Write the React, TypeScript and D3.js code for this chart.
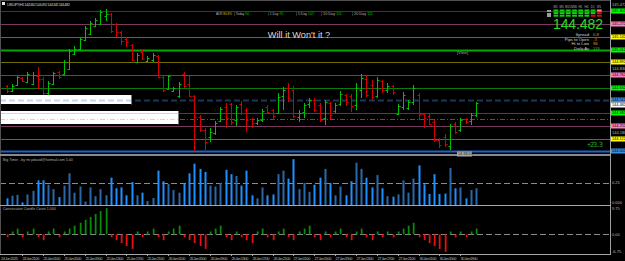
import React from 'react';
import * as d3 from 'd3';

// USDJPY H1 — bars from 24 Jun 18:00 to 30 Jun 12:00
const opens = [
  144.652, 144.602, 144.662, 144.732, 144.692, 144.672, 144.752, 144.722, 144.582, 144.672,
  144.792, 144.772, 144.822, 144.972, 145.022, 145.112, 145.172, 145.252, 145.272, 145.352,
  145.372, 145.272, 145.192, 145.122, 145.062, 144.892, 144.992, 144.902, 144.912, 144.952,
  144.742, 144.622, 144.602, 144.552, 144.772, 144.672, 144.552, 144.342, 144.212, 144.142,
  144.182, 144.302, 144.442, 144.472, 144.312, 144.472, 144.412, 144.322, 144.282, 144.312,
  144.442, 144.412, 144.382, 144.552, 144.632, 144.612, 144.342, 144.392, 144.472, 144.512,
  144.462, 144.332, 144.482, 144.402, 144.472, 144.562, 144.552, 144.462, 144.612, 144.722,
  144.662, 144.552, 144.702, 144.612, 144.652, 144.372, 144.442, 144.432, 144.492, 144.562,
  144.372, 144.352, 144.292, 144.112, 144.142, 144.052, 144.272, 144.212, 144.322, 144.302,
  144.362,
];
const highs = [
  144.662, 144.672, 144.752, 144.742, 144.792, 144.792, 144.842, 144.742, 144.702, 144.792,
  144.802, 144.912, 145.022, 145.052, 145.142, 145.252, 145.302, 145.332, 145.412, 145.422,
  145.382, 145.282, 145.202, 145.142, 145.072, 144.982, 145.022, 144.952, 144.982, 144.962,
  144.762, 144.762, 144.642, 144.692, 144.792, 144.752, 144.562, 144.362, 144.232, 144.232,
  144.302, 144.442, 144.482, 144.482, 144.462, 144.502, 144.432, 144.332, 144.332, 144.422,
  144.462, 144.422, 144.582, 144.642, 144.682, 144.652, 144.412, 144.482, 144.532, 144.532,
  144.482, 144.512, 144.492, 144.482, 144.602, 144.572, 144.572, 144.682, 144.772, 144.762,
  144.712, 144.742, 144.712, 144.682, 144.662, 144.472, 144.592, 144.512, 144.662, 144.582,
  144.382, 144.372, 144.312, 144.132, 144.172, 144.272, 144.292, 144.332, 144.332, 144.382,
  144.492,
];
const lows = [
  144.582, 144.592, 144.652, 144.692, 144.682, 144.662, 144.622, 144.562, 144.562, 144.662,
  144.722, 144.762, 144.812, 144.962, 145.012, 145.102, 145.162, 145.242, 145.262, 145.302,
  145.182, 145.142, 145.062, 145.042, 144.902, 144.882, 144.912, 144.892, 144.892, 144.732,
  144.592, 144.612, 144.592, 144.532, 144.632, 144.542, 144.002, 144.192, 143.992, 144.092,
  144.162, 144.292, 144.232, 144.262, 144.252, 144.362, 144.192, 144.232, 144.262, 144.292,
  144.382, 144.312, 144.372, 144.412, 144.492, 144.332, 144.292, 144.332, 144.432, 144.392,
  144.292, 144.262, 144.322, 144.382, 144.452, 144.452, 144.392, 144.412, 144.532, 144.542,
  144.512, 144.532, 144.582, 144.582, 144.562, 144.362, 144.412, 144.412, 144.462, 144.312,
  144.232, 144.262, 144.092, 144.032, 144.042, 144.012, 144.172, 144.192, 144.272, 144.262,
  144.342,
];
const closes = [
  144.602, 144.652, 144.742, 144.702, 144.772, 144.762, 144.722, 144.582, 144.682, 144.782,
  144.742, 144.892, 145.002, 145.022, 145.122, 145.232, 145.282, 145.312, 145.392, 145.372,
  145.202, 145.192, 145.102, 145.092, 144.912, 144.962, 144.922, 144.932, 144.962, 144.742,
  144.612, 144.752, 144.632, 144.672, 144.652, 144.552, 144.342, 144.212, 144.092, 144.192,
  144.282, 144.422, 144.332, 144.292, 144.442, 144.382, 144.312, 144.282, 144.312, 144.402,
  144.392, 144.352, 144.542, 144.612, 144.532, 144.352, 144.382, 144.462, 144.512, 144.412,
  144.312, 144.492, 144.362, 144.462, 144.572, 144.492, 144.452, 144.632, 144.732, 144.562,
  144.542, 144.712, 144.612, 144.652, 144.592, 144.452, 144.562, 144.492, 144.632, 144.372,
  144.332, 144.272, 144.112, 144.062, 144.072, 144.252, 144.192, 144.312, 144.292, 144.362,
  144.482,
];

// Big Timer histogram
const bigTimer = [
  0.076, 0.106, 0.114, 0.03, 0.12, 0.16, 0.28, 0.28, 0.23, 0.18,
  0.09, 0.22, 0.36, 0.14, 0.21, 0.04, 0.2, 0.1, 0.18, 0.11,
  0.31, 0.19, 0.2, 0.11, 0.26, 0.11, 0.14, 0.045, 0.08, 0.39,
  0.27, 0.24, 0.17, 0.14, 0.24, 0.36, 0.47, 0.41, 0.375, 0.22,
  0.21, 0.25, 0.4, 0.35, 0.33, 0.22, 0.39, 0.11, 0.076, 0.2,
  0.11, 0.12, 0.35, 0.39, 0.3, 0.52, 0.18, 0.25, 0.15, 0.23,
  0.31, 0.41, 0.25, 0.11, 0.21, 0.11, 0.27, 0.48, 0.41, 0.31,
  0.2, 0.34, 0.19, 0.1, 0.095, 0.12, 0.28, 0.14, 0.3, 0.45,
  0.235, 0.125, 0.35, 0.125, 0.13, 0.42, 0.19, 0.2, 0.076, 0.17,
  0.19,
];

// Consecutive Candle Count histogram
const candleCount = [
  -1, 1, 2, -1, 1, 2, -1, -2, 1, 2,
  -1, 1, 2, 3, 4, 5, 6, 7, 8, 9,
  -1, -2, -3, -4, -5, 1, -1, 1, 2, -1,
  -2, 1, 2, 3, -1, -2, -3, -4, -5, 1,
  2, 3, -1, -2, 1, -1, -2, -3, 1, 2,
  -1, -2, 1, 2, -1, -2, 1, 2, 3, -1,
  -2, 1, -1, 1, 2, -1, -2, 1, 2, -1,
  -2, 1, -1, 1, -1, 1, 2, 3, 4, -1,
  -2, -3, -4, -5, -6, 1, -1, 1, -1, 1,
  2,
];

const priceTicks = [
  145.472, 145.365, 145.258, 145.151, 145.044, 144.937, 144.83, 144.723,
  144.616, 144.509, 144.402, 144.295, 144.188, 144.081, 143.974,
];

// horizontal levels (price) and their looks
const levelPrices = [
  145.402, 145.272, 145.142, 145.012, 144.892, 144.762, 144.632,
  144.512, 144.382, 144.322, 144.252, 144.122, 144.002,
];
const levelStyles = [
  { stroke: '#0b5a0b', w: 1, dash: '', box: '#00ff00' },
  { stroke: '#7a3a5e', w: 1, dash: '', box: '#ff80c0' },
  { stroke: '#6e6e00', w: 1, dash: '', box: '#ffff00' },
  { stroke: '#00a800', w: 2, dash: '', box: '#00ff00' },
  { stroke: '#6e6e00', w: 1, dash: '', box: '#ffff00' },
  { stroke: '#7a3a5e', w: 1, dash: '', box: '#ff80c0' },
  { stroke: '#0a7a0a', w: 1, dash: '', box: '#00ff00' },
  { stroke: '#1c3658', w: 2, dash: '6,3', box: '#3a8ee8' },
  { stroke: '#0a6e0a', w: 1, dash: '', box: '#00ff00' },
  { stroke: '#0a8a0a', w: 1, dash: '5,2,1,2', box: '' },
  { stroke: '#7a3a5e', w: 1, dash: '', box: '#ff80c0' },
  { stroke: '#6e6e00', w: 1, dash: '', box: '#ffff00' },
  { stroke: '#1e64c8', w: 2, dash: '', box: '#3a8ee8' },
];

const timeTickBars = [3, 7, 11, 15, 19, 23, 27, 31, 35, 39, 43, 47, 51, 55, 59, 63, 67, 71, 75, 79, 83, 87];
const timeTickText = [
  '24 Jun 21:00', '25 Jun 01:00', '25 Jun 05:00', '25 Jun 09:00', '25 Jun 13:00', '25 Jun 17:00',
  '25 Jun 21:00', '26 Jun 01:00', '26 Jun 05:00', '26 Jun 09:00', '26 Jun 13:00', '26 Jun 17:00',
  '26 Jun 21:00', '27 Jun 01:00', '27 Jun 05:00', '27 Jun 09:00', '27 Jun 13:00', '27 Jun 17:00',
  '27 Jun 21:00', '30 Jun 01:00', '30 Jun 05:00', '30 Jun 09:00',
];

const adrLabels = ['ADR', '| Today', '| 1 Day', '| 5 Day', '| 10 Day', '| 20 Day'];
const adrValues = ['80.8%', '96', '76', '107', '111', '111'];
const adrX = [216, 234, 268, 296, 321, 352];
const adrW = [16, 15, 15, 18, 21, 21];

const infoLabels = ['Spread', 'Pips to Open', 'Hi to Low', 'Daily Av'];
const infoValues = ['0.8', '-3', '96', '119'];
const infoColors = ['#e08a1a', '#e07a1a', '#e0a020', '#20c020'];

const meterFrames = ['M1', 'M5', 'M15', 'M30', 'H1', 'H4', 'D1', 'W1'];
const meterCells = [
  ['g', 'g', 'g'], ['g', 'g', 'g'], ['g', 'g', 'g'], ['g', 'g', 'g'],
  ['g', 'g', 'g'], ['g', 'g', 'g'], ['g', 'g', 'r'], ['p', 'r', 'r'],
];
const cellColor = { g: '#10d010', r: '#d01010', p: '#ff8a8a' };

const FONT = 'Liberation Sans, Arial, sans-serif';
const AXIS_X = 610;
const BULL = '#00c000';
const BEAR = '#d40000';

export default function App() {
  const W = 625;
  const H = 261;

  const x = d3.scaleLinear().domain([0, 90]).range([6.5, 476]);
  const yPrice = d3.scaleLinear().domain([143.962, 145.512]).range([155, 0]);
  const yBT = d3.scaleLinear().domain([0, 0.545]).range([205, 157]);
  const yCC = d3.scaleLinear().domain([-6.75, 9.75]).range([254, 206]);
  const px = (i: number) => Math.round(x(i)) + 0.5;
  const py = (v: number) => Math.round(yPrice(v)) + 0.5;

  const lastClose = closes[closes.length - 1];
  const bidY = yPrice(lastClose) + 2;

  // axis boxes: level labels plus the bid label
  const boxYs = levelPrices
    .filter((p, i) => levelStyles[i].box)
    .map((p) => yPrice(p))
    .concat([bidY]);
  // hide plain price ticks that would sit under a box (as the terminal does)
  const visibleTicks = priceTicks.filter((p) => boxYs.every((by) => Math.abs(yPrice(p) - by) > 5));

  const boxLabel = (y: number, fill: string, text: string, key: string) => (
    <g key={key}>
      <rect x={AXIS_X + 0.5} y={y - 2.5} width={16} height={5} fill={fill} />
      <text x={AXIS_X + 2} y={y + 1.4} fontSize={3.8} fill="#000" fontFamily={FONT}>{text}</text>
    </g>
  );

  return (
    <svg width={W} height={H} style={{ position: 'absolute', left: 0, top: 0, display: 'block' }}>
      <defs>
        <clipPath id="mainClip"><rect x={0} y={0} width={AXIS_X} height={154} /></clipPath>
        <clipPath id="btClip"><rect x={0} y={157} width={AXIS_X} height={48} /></clipPath>
        <clipPath id="ccClip"><rect x={0} y={206} width={AXIS_X} height={48} /></clipPath>
      </defs>
      <rect x={0} y={0} width={W} height={H} fill="#000" />

      {/* main window */}
      <g clipPath="url(#mainClip)">
        {levelPrices.map((p, i) => (
          <line key={'lv' + i} x1={0} x2={AXIS_X} y1={py(p)} y2={py(p)}
            stroke={levelStyles[i].stroke} strokeWidth={levelStyles[i].w}
            strokeDasharray={levelStyles[i].dash || undefined} />
        ))}

        {closes.map((c, i) => {
          const col = c >= opens[i] ? BULL : BEAR;
          const cx = px(i);
          return (
            <g key={'c' + i} stroke={col} strokeWidth={1}>
              <line x1={cx} x2={cx} y1={yPrice(highs[i])} y2={yPrice(lows[i])} />
              <line x1={cx - 2} x2={cx} y1={py(opens[i])} y2={py(opens[i])} />
              <line x1={cx} x2={cx + 2} y1={py(c)} y2={py(c)} />
            </g>
          );
        })}

        {/* white label boxes */}
        <rect x={0} y={95} width={131} height={9} fill="#fff" />
        <line x1={131.5} x2={131.5} y1={95} y2={104.5} stroke="#777" />
        <line x1={0} x2={131} y1={py(levelPrices[7])} y2={py(levelPrices[7])} stroke="#c4d8ee" strokeWidth={2} strokeDasharray="6,3" />
        <rect x={0} y={111} width={178} height={13} fill="#fff" />
        <line x1={178.5} x2={178.5} y1={111} y2={124.5} stroke="#777" />
        <line x1={0} x2={178} y1={py(levelPrices[8])} y2={py(levelPrices[8])} stroke="#b4eeb4" />
        <line x1={0} x2={178} y1={py(levelPrices[9])} y2={py(levelPrices[9])} stroke="#b4eeb4" strokeDasharray="5,2,1,2" />
      </g>

      {/* titles and info */}
      <rect x={2} y={2} width={3} height={3} fill="#e0e0e0" />
      <text x={7} y={6} fontSize={4} fill="#c8c8c8" fontFamily={FONT} textLength={63}>
        USDJPY,H1  144.362 144.492 144.342 144.482
      </text>

      {adrLabels.map((l, i) => (
        <text key={'adr' + i} x={adrX[i]} y={14.5} fontSize={3.6} fontFamily={FONT} fill="#b8b8b8"
          textLength={adrW[i]} lengthAdjust="spacingAndGlyphs">
          {l} <tspan fill={i === 0 ? '#c8c800' : '#00c000'}>{adrValues[i]}</tspan>
        </text>
      ))}

      <text x={299} y={37.5} fontSize={9.2} fill="#d8d8d8" fontFamily={FONT} textAnchor="middle">
        Will it Won't it ?
      </text>

      <text x={457} y={53.5} fontSize={4} fill="#a8a8a8" fontFamily={FONT}>[Vline]</text>

      {/* timeframe meter */}
      <path d="M547,10 h4 v2 h-4z M547,13 h4 v4 h-4z" fill="#9a9a9a" />
      {meterFrames.map((f, i) => (
        <g key={'m' + i}>
          <text x={555.5 + i * 6.2} y={8} fontSize={3} fill="#b0b0b0" fontFamily={FONT} textAnchor="middle">{f}</text>
          {meterCells[i].map((c, r) => (
            <rect key={r} x={553.5 + i * 6.2} y={9.5 + r * 2.6} width={4.8} height={2} fill={cellColor[c]} />
          ))}
        </g>
      ))}

      <text x={603} y={29} fontSize={14} fill="#22e022" fontFamily={FONT} textAnchor="end" textLength={50}>
        144.482
      </text>
      {infoLabels.map((l, i) => (
        <g key={'inf' + i}>
          <text x={589} y={36 + i * 4.6} fontSize={4.2} fill="#d0d0d0" fontFamily={FONT} textAnchor="end">{l}</text>
          <text x={593} y={36 + i * 4.6} fontSize={4.2} fill={infoColors[i]} fontFamily={FONT}>{infoValues[i]}</text>
        </g>
      ))}

      <text x={587} y={147} fontSize={7} fill="#22a822" fontFamily="DejaVu Sans Mono, monospace" textLength={16}>+23.3</text>

      {/* price axis labels */}
      {visibleTicks.map((p, i) => (
        <text key={'pt' + i} x={AXIS_X + 2} y={yPrice(p) + 1.5} fontSize={4} fill="#b8b8b8" fontFamily={FONT}>
          {p.toFixed(3)}
        </text>
      ))}
      {levelPrices.map((p, i) =>
        levelStyles[i].box ? boxLabel(yPrice(p), levelStyles[i].box, p.toFixed(3), 'lb' + i) : null
      )}
      {boxLabel(bidY, '#ffffff', lastClose.toFixed(3), 'bid')}

      {/* Big Timer window */}
      <text x={3} y={161} fontSize={3.6} fill="#b0b0b0" fontFamily={FONT}>Big Timer - by mr.pdavid@hotmail.com 5.00</text>
      <g clipPath="url(#btClip)">
        <line x1={0} x2={AXIS_X} y1={Math.round(yBT(0.25)) + 0.5} y2={Math.round(yBT(0.25)) + 0.5}
          stroke="#8a8a8a" strokeDasharray="6,3" />
        {bigTimer.map((v, i) => (
          <rect key={'bt' + i} x={px(i) - 1} y={yBT(v)} width={2} height={yBT(0) - yBT(v)}
            fill={closes[i] >= opens[i] ? '#2a68ac' : '#1e90ff'} />
        ))}
      </g>
      <text x={AXIS_X + 2} y={yBT(0.25) + 1.5} fontSize={4} fill="#b8b8b8" fontFamily={FONT}>0.25</text>
      <text x={AXIS_X + 2} y={yBT(0) - 1.5} fontSize={4} fill="#b8b8b8" fontFamily={FONT}>0.000</text>

      {/* Consecutive Candle Count window */}
      <text x={3} y={210} fontSize={3.6} fill="#b0b0b0" fontFamily={FONT}>Consecutive Candle Count 1.000</text>
      <g clipPath="url(#ccClip)">
        <line x1={0} x2={AXIS_X} y1={Math.round(yCC(0)) + 0.5} y2={Math.round(yCC(0)) + 0.5}
          stroke="#8a8a8a" strokeDasharray="6,3" />
        {candleCount.map((v, i) => (
          <rect key={'cc' + i} x={px(i) - 0.75} y={Math.min(yCC(v), yCC(0))} width={1.8}
            height={Math.abs(yCC(v) - yCC(0))} fill={v > 0 ? '#0a8a0a' : '#e81010'} />
        ))}
      </g>
      <text x={AXIS_X + 2} y={yCC(9.75) + 4} fontSize={4} fill="#b8b8b8" fontFamily={FONT}>9.75</text>
      <text x={AXIS_X + 2} y={yCC(0) + 1.5} fontSize={4} fill="#b8b8b8" fontFamily={FONT}>0.00</text>
      <text x={AXIS_X + 2} y={yCC(-6.75) - 1} fontSize={4} fill="#b8b8b8" fontFamily={FONT}>-6.75</text>

      {/* frame and separators */}
      <line x1={0} x2={AXIS_X} y1={0.5} y2={0.5} stroke="#505050" />
      <line x1={0.5} x2={0.5} y1={0} y2={254} stroke="#505050" />
      <line x1={AXIS_X + 0.5} x2={AXIS_X + 0.5} y1={0} y2={255} stroke="#a0a0a0" />
      <rect x={0} y={154} width={AXIS_X} height={2} fill="#8a8a8a" />
      <line x1={0} x2={AXIS_X + 1} y1={205.5} y2={205.5} stroke="#a8a8a8" />
      <line x1={0} x2={AXIS_X + 1} y1={254.5} y2={254.5} stroke="#a8a8a8" />

      {/* timer box on the separator */}
      <rect x={457} y={151.5} width={15} height={5} fill="#a8a8a8" />
      <text x={458} y={155.3} fontSize={3.8} fill="#202020" fontFamily={FONT}>14:38:24</text>

      {/* time axis */}
      <text x={1} y={259.5} fontSize={4} fill="#b8b8b8" fontFamily={FONT} textLength={17}>24 Jun 2025</text>
      {timeTickBars.map((b, i) => (
        <g key={'tt' + i}>
          <line x1={px(b)} x2={px(b)} y1={254} y2={256} stroke="#a8a8a8" />
          <text x={px(b)} y={259.5} fontSize={4} fill="#b8b8b8" fontFamily={FONT} textLength={17}>
            {timeTickText[i]}
          </text>
        </g>
      ))}
    </svg>
  );
}
